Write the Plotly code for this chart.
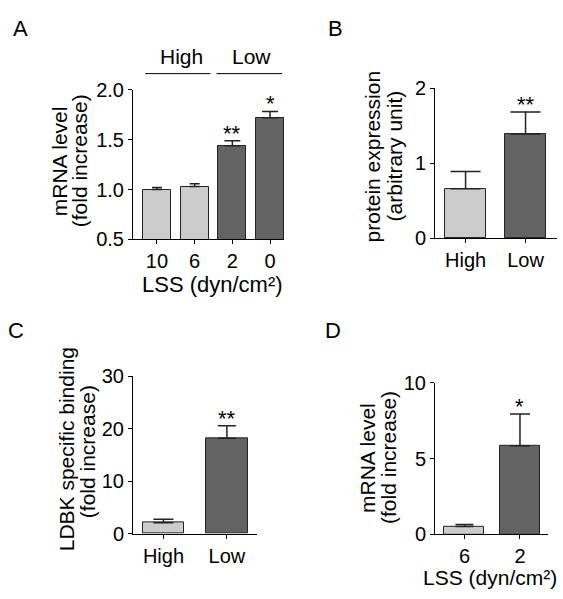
import plotly.graph_objects as go

FONT = "Liberation Sans, Arial, sans-serif"
LIGHT = "#cccccc"
DARK = "#636363"

# Panel A
a_labels = ["10", "6", "2", "0"]
a_values = [1.00, 1.03, 1.44, 1.72]
a_err = [0.02, 0.028, 0.05, 0.065]
a_stars = ["", "", "**", "*"]

# Panel B
b_labels = ["High", "Low"]
b_values = [0.66, 1.39]
b_err = [0.23, 0.29]
b_stars = ["", "**"]

# Panel C
c_labels = ["High", "Low"]
c_values = [2.1, 18.2]
c_err = [0.65, 2.4]
c_stars = ["", "**"]

# Panel D
d_labels = ["6", "2"]
d_values = [0.51, 5.85]
d_err = [0.14, 2.1]
d_stars = ["", "*"]

W, H = 563, 599

def px_x(p):
    return p / W

def px_y(p):
    return 1 - p / H

fig = go.Figure()

def add_bars(xref, yref, values, errs, colors, width, capw):
    n = len(values)
    for idx in range(n):
        fig.add_trace(go.Bar(
            x=[idx], y=[values[idx]], width=width,
            marker=dict(color=colors[idx], line=dict(color="#222222", width=1)),
            error_y=dict(type="data", symmetric=False, array=[errs[idx]], arrayminus=[0],
                         color="#222222", thickness=1.5, width=capw[idx]),
            xaxis=xref, yaxis=yref, showlegend=False, hoverinfo="skip"))

add_bars("x", "y", a_values, a_err, [LIGHT, LIGHT, DARK, DARK], 0.74, [5, 5, 8, 8])
add_bars("x2", "y2", b_values, b_err, [LIGHT, DARK], 0.67, [15, 15])
add_bars("x3", "y3", c_values, c_err, [LIGHT, DARK], 0.65, [10, 9])
add_bars("x4", "y4", d_values, d_err, [LIGHT, DARK], 0.72, [9, 10])

tickfont = dict(family=FONT, size=20, color="black")
axcommon = dict(showline=True, linecolor="black", linewidth=1, ticks="outside", ticklen=4,
                tickcolor="black", tickwidth=1, showgrid=False, zeroline=False,
                tickfont=tickfont, fixedrange=True)

def xax(domain, labels, rng, anchor):
    return dict(domain=domain, range=rng, tickvals=list(range(len(labels))), ticktext=labels,
                anchor=anchor, **axcommon)

def yax(domain, rng, tickvals, ticktext, anchor):
    return dict(domain=domain, range=rng, tickvals=tickvals, ticktext=ticktext, anchor=anchor,
                **axcommon)

fig.update_layout(
    width=W, height=H, margin=dict(l=0, r=0, t=0, b=0),
    paper_bgcolor="white", plot_bgcolor="white", bargap=0,
    font=dict(family=FONT, color="black"),
    xaxis=xax([px_x(133), px_x(284)], a_labels, [-0.636, 3.37], "y"),
    yaxis=yax([px_y(237), px_y(82)], [0.5, 2.0], [0.5, 1.0, 1.5, 2.0], ["0.5", "1.0", "1.5", "2.0"], "x"),
    xaxis2=xax([px_x(435), px_x(556.7)], b_labels, [-0.51, 1.52], "y2"),
    yaxis2=yax([px_y(236), px_y(80)], [0, 2], [0, 1, 2], ["0", "1", "2"], "x2"),
    xaxis3=xax([px_x(133), px_x(256.7)], c_labels, [-0.48, 1.47], "y3"),
    yaxis3=yax([px_y(542.7), px_y(379.3)], [0, 30], [0, 10, 20, 30], ["0", "10", "20", "30"], "x3"),
    xaxis4=xax([px_x(435), px_x(548.3)], d_labels, [-0.53, 1.51], "y4"),
    yaxis4=yax([px_y(543.3), px_y(386)], [0, 10], [0, 5, 10], ["0", "5", "10"], "x4"),
)

ann = []

def text_ann(text, x, y, size=21, angle=0, xref="paper", yref="paper", **kw):
    ann.append(dict(text=text, x=x, y=y, xref=xref, yref=yref, showarrow=False,
                    textangle=angle, font=dict(family=FONT, size=size, color="black"),
                    xanchor="center", yanchor="middle", **kw))

# panel letters
text_ann("A", px_x(20), px_y(18), size=22)
text_ann("B", px_x(335), px_y(18), size=22)
text_ann("C", px_x(16), px_y(332), size=22)
text_ann("D", px_x(333), px_y(332), size=22)

# y titles (two lines)
text_ann("mRNA level", px_x(59), px_y(156), angle=-90)
text_ann("(fold increase)", px_x(79), px_y(156), angle=-90)
text_ann("protein expression", px_x(372), px_y(151), angle=-90)
text_ann("(arbitrary unit)", px_x(394), px_y(151), angle=-90)
text_ann("LDBK specific binding", px_x(66), px_y(455), angle=-90)
text_ann("(fold increase)", px_x(87), px_y(458), angle=-90)
text_ann("mRNA level", px_x(368), px_y(464), angle=-90)
text_ann("(fold increase)", px_x(389), px_y(464), angle=-90)

# x titles
text_ann("LSS (dyn/cm²)", px_x(212), px_y(284), size=22)
text_ann("LSS (dyn/cm²)", px_x(490), px_y(588), size=21)

# High / Low group labels in A
text_ann("High", 0.66, px_y(47), xref="x")
text_ann("Low", 2.51, px_y(47), xref="x")

# stars
def stars(xr, yr, vals, errs, marks):
    for idx, m in enumerate(marks):
        if m:
            ann.append(dict(text=m, x=idx, y=vals[idx] + errs[idx], xref=xr, yref=yr,
                            showarrow=False, yanchor="bottom", xanchor="center", yshift=-7,
                            font=dict(family=FONT, size=22, color="black")))

stars("x", "y", a_values, a_err, a_stars)
stars("x2", "y2", b_values, b_err, b_stars)
stars("x3", "y3", c_values, c_err, c_stars)
stars("x4", "y4", d_values, d_err, d_stars)

fig.update_layout(annotations=ann)

# group lines in A
fig.add_shape(type="line", xref="x", yref="paper", x0=-0.31, x1=1.42,
              y0=px_y(65), y1=px_y(65), line=dict(color="black", width=1))
fig.add_shape(type="line", xref="x", yref="paper", x0=1.58, x1=3.32,
              y0=px_y(65), y1=px_y(65), line=dict(color="black", width=1))

fig.write_html("out.html", config={"displayModeBar": False},
               post_script="document.body.style.margin='0';document.body.style.overflow='hidden';")
